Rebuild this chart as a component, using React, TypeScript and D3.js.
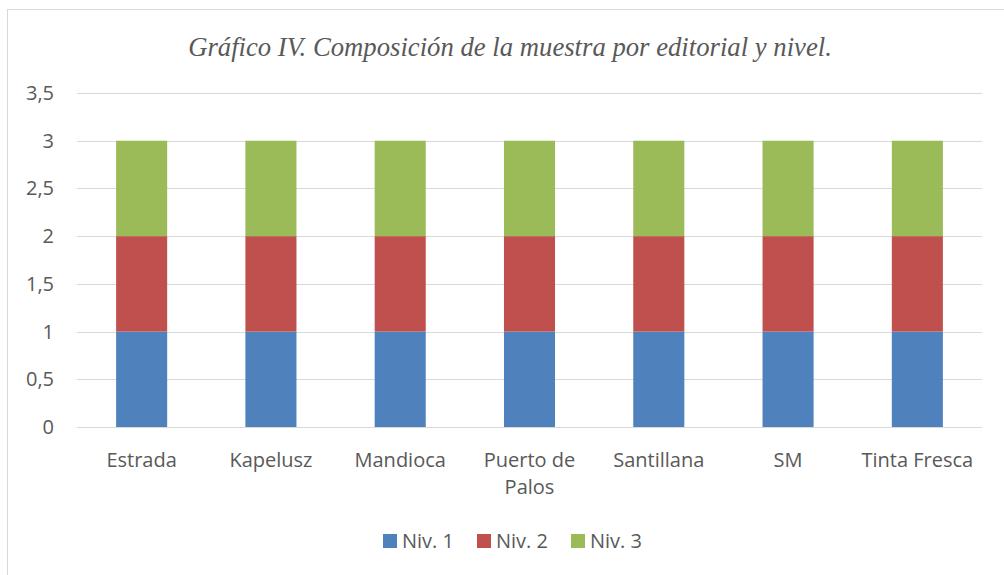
import React, { useEffect, useRef } from "react";
import * as d3 from "d3";

const editoriales = ["Estrada", "Kapelusz", "Mandioca", "Puerto de Palos", "Santillana", "SM", "Tinta Fresca"];
const niv1 = [1, 1, 1, 1, 1, 1, 1];
const niv2 = [1, 1, 1, 1, 1, 1, 1];
const niv3 = [1, 1, 1, 1, 1, 1, 1];
const seriesNames = ["Niv. 1", "Niv. 2", "Niv. 3"];
const colors = ["#4F81BD", "#C0504D", "#9BBB59"];
const yTicks = [0, 0.5, 1, 1.5, 2, 2.5, 3, 3.5];

const App = () => {
  const ref = useRef<SVGSVGElement>(null);

  useEffect(() => {
    const svg = d3.select(ref.current);
    svg.selectAll("*").remove();

    const W = 1004;
    const H = 575;
    const margin = { top: 93, right: 22, bottom: 148, left: 77 };
    const font = "'Open Sans', Lato, sans-serif";
    const textColor = "#595959";

    // Chart frame
    svg.append("rect")
      .attr("x", 7.5).attr("y", 9.5)
      .attr("width", W + 10).attr("height", H + 10)
      .attr("fill", "#fff").attr("stroke", "#d9d9d9");

    svg.append("text")
      .attr("x", 510).attr("y", 56)
      .attr("text-anchor", "middle")
      .attr("font-family", "'Liberation Serif', 'Times New Roman', serif")
      .attr("font-style", "italic")
      .attr("font-size", 26.7)
      .attr("fill", textColor)
      .text("Gráfico IV. Composición de la muestra por editorial y nivel.");

    const x = d3.scaleBand()
      .domain(editoriales)
      .range([margin.left, W - margin.right])
      .paddingInner(0.605)
      .paddingOuter(0.3025);
    const y = d3.scaleLinear().domain([0, 3.5]).range([H - margin.bottom, margin.top]);

    // Gridlines
    svg.append("g")
      .selectAll("line")
      .data(yTicks)
      .enter()
      .append("line")
      .attr("x1", margin.left).attr("x2", W - margin.right)
      .attr("y1", (d) => Math.round(y(d)) + 0.5).attr("y2", (d) => Math.round(y(d)) + 0.5)
      .attr("stroke", "#d9d9d9").attr("stroke-width", 1);

    // Y labels
    svg.append("g")
      .selectAll("text")
      .data(yTicks)
      .enter()
      .append("text")
      .attr("x", 54)
      .attr("y", (d) => y(d) + 7)
      .attr("text-anchor", "end")
      .attr("font-family", font)
      .attr("font-size", 20)
      .attr("fill", textColor)
      .text((d) => d3.format("")(d).replace(".", ","));

    // Stacked bars
    const rows = editoriales.map((e, i) => ({ key: e, s0: niv1[i], s1: niv2[i], s2: niv3[i] }));
    const stack = d3.stack<any>().keys(["s0", "s1", "s2"]);
    const layers = stack(rows);

    svg.append("g")
      .selectAll("g")
      .data(layers)
      .enter()
      .append("g")
      .attr("fill", (_d, i) => colors[i])
      .selectAll("rect")
      .data((d) => d)
      .enter()
      .append("rect")
      .attr("x", (d) => x(d.data.key)!)
      .attr("width", x.bandwidth())
      .attr("y", (d) => y(d[1]))
      .attr("height", (d) => y(d[0]) - y(d[1]));

    // X labels
    const xl = svg.append("g")
      .selectAll("text")
      .data(editoriales)
      .enter()
      .append("text")
      .attr("x", (d) => x(d)! + x.bandwidth() / 2)
      .attr("y", 467)
      .attr("text-anchor", "middle")
      .attr("font-family", font)
      .attr("font-size", 20)
      .attr("fill", textColor);
    xl.each(function (d) {
      const t = d3.select(this);
      const lines = d === "Puerto de Palos" ? ["Puerto de", "Palos"] : [d];
      lines.forEach((l, i) => {
        t.append("tspan")
          .attr("x", x(d)! + x.bandwidth() / 2)
          .attr("dy", i === 0 ? 0 : 27)
          .text(l);
      });
    });

    // Legend
    const legendX = [383, 477, 571];
    const lg = svg.append("g")
      .selectAll("g")
      .data(seriesNames)
      .enter()
      .append("g")
      .attr("transform", (_d, i) => `translate(${legendX[i]},534)`);
    lg.append("rect").attr("width", 14).attr("height", 14).attr("fill", (_d, i) => colors[i]);
    lg.append("text")
      .attr("x", 19).attr("y", 14)
      .attr("font-family", font)
      .attr("font-size", 20)
      .attr("fill", textColor)
      .text((d) => d);
  }, []);

  return (
    <svg ref={ref} width={1004} height={575} style={{ position: "absolute", left: 0, top: 0 }} />
  );
};

export default App;
